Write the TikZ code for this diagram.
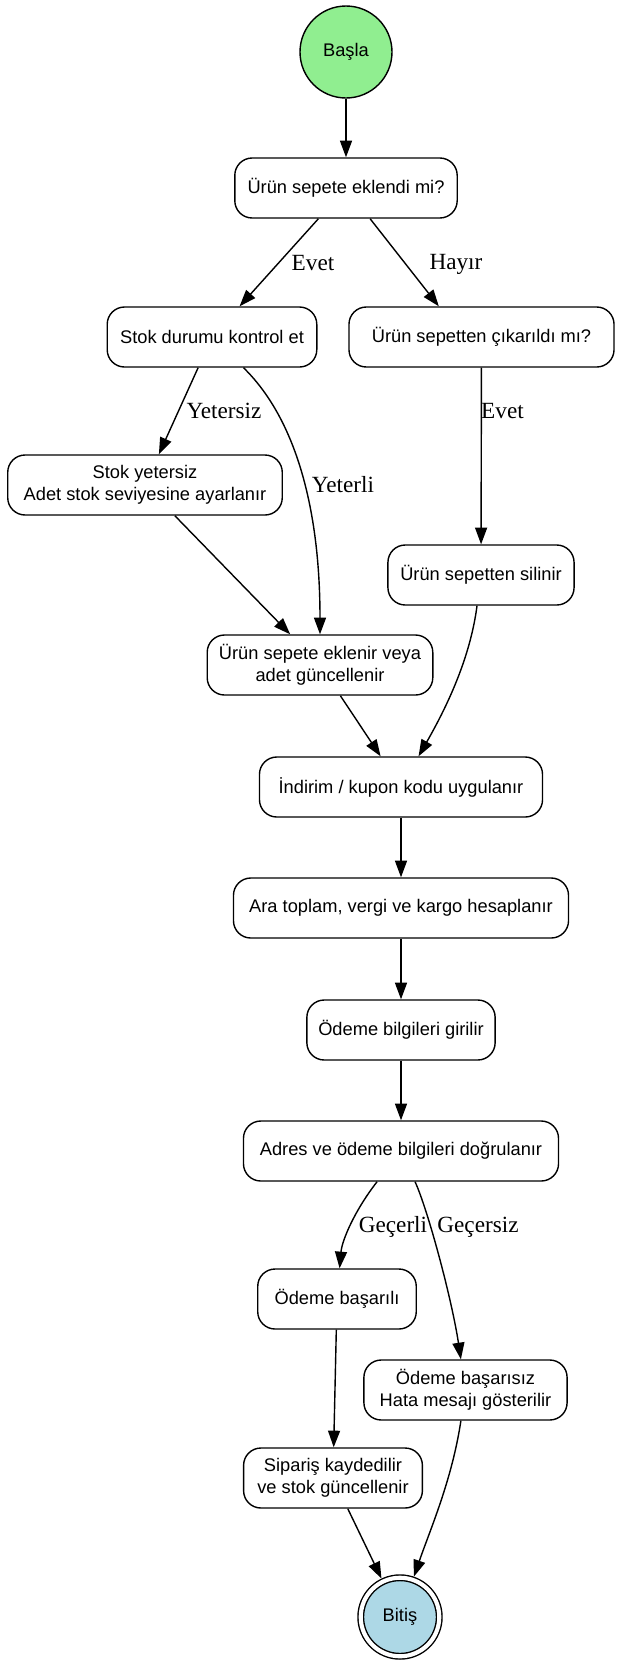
\documentclass[tikz,border=0pt]{standalone}
\usepackage{fontspec}
\setmainfont{Liberation Sans}
\newfontfamily\labelfont{Liberation Serif}
\usetikzlibrary{arrows.meta}

\definecolor{startgreen}{HTML}{90EE90}
\definecolor{endblue}{HTML}{ADD8E6}

\tikzset{
	nodefont/.style={font=\fontsize{13.7}{16.5}\selectfont},
	box/.style={draw, nodefont, rounded corners=13pt, fill=white, minimum height=45pt, inner xsep=2pt, align=center},
	state/.style={draw, nodefont, circle, inner sep=0pt},
	lbl/.style={font=\labelfont\fontsize{17.4}{20}\selectfont, inner sep=0pt},
}

\begin{document}
\begin{tikzpicture}[x=0.75pt, y=-0.75pt, line width=1.05pt, >={Triangle[length=12.5pt, width=9pt]}]
		\useasboundingbox (0,0) rectangle (620,1668);
		
		\node[state, fill=startgreen, minimum size=69pt] (top) at (346, 52) {Başla};
		
		\begin{scope}[every node/.style={box}]
		\node[minimum width=166.8pt] (1-1) at (346, 188)   {Ürün sepete eklendi mi?};
		
		\node[minimum width=157.2pt] (2-1) at (212, 337)   {Stok durumu kontrol et};
		\node[minimum width=198.8pt] (2-2) at (481.5, 337) {Ürün sepetten çıkarıldı mı?};
		
		\node[minimum width=205.9pt] (3-1) at (145, 485)   {Stok yetersiz\\Adet stok seviyesine ayarlanır};
		\node[minimum width=139.6pt] (3-2) at (481, 575)   {Ürün sepetten silinir};
		
		\node[minimum width=169.2pt] (4-1) at (320, 665)   {Ürün sepete eklenir veya\\adet güncellenir};
		
		\node[minimum width=212.3pt] (5-1) at (401, 787)   {İndirim / kupon kodu uygulanır};
		\node[minimum width=251.3pt] (6-1) at (401, 908)   {Ara toplam, vergi ve kargo hesaplanır};
		\node[minimum width=141.2pt] (7-1) at (401, 1030)  {Ödeme bilgileri girilir};
		\node[minimum width=236.3pt] (8-1) at (401, 1151)  {Adres ve ödeme bilgileri doğrulanır};
		
		\node[minimum width=118.9pt] (9-1) at (337, 1299)  {Ödeme başarılı};
		\node[minimum width=152.4pt] (9-2) at (465.5, 1390) {Ödeme başarısız\\Hata mesajı gösterilir};
		
		\node[minimum width=134.1pt] (10-1) at (333, 1478) {Sipariş kaydedilir\\ve stok güncellenir};
		\end{scope}
		
		\node[state, double, double distance=3.1pt, outer sep=2.6pt, fill=endblue, minimum size=58.9pt] (bottom) at (400, 1617) {Bitiş};
		
		
		\path [->] (top) edge (1-1);
		
		\path [->] (1-1) edge (2-1);
		\path [->] (1-1) edge ([xshift=-32pt]2-2.north);
		\node[lbl] (evet-1) at (313, 263) {Evet};
		\node[lbl] (hayir)  at (456, 264) {Hayır};
		
		\path [->] (2-1) edge (3-1);
		\draw [->] (2-1) .. controls (292, 415) and (320, 500) .. (4-1);
		\node[lbl] (yetersiz) at (224, 411) {Yetersiz};
		\node[lbl] (yeterli)  at (343, 485) {Yeterli};
		
		\path [->] (2-2) edge (3-2);
		\node[lbl] (evet-2) at (502.5, 411) {Evet};
		
		\path [->] (3-1) edge (4-1);
		\draw [->] (3-2) .. controls (470, 660) and (445, 710) .. (5-1);
		\path [->] (4-1) edge (5-1);
		
		\path [->] (5-1) edge (6-1);
		\path [->] (6-1) edge (7-1);
		\path [->] (7-1) edge (8-1);
		
		\draw [->] (8-1) .. controls (355, 1210) and (342, 1240) .. (9-1);
		\draw [->] (8-1) .. controls (428, 1210) and (452, 1300) .. (9-2);
		\node[lbl] (gecerli)  at (393, 1227) {Geçerli};
		\node[lbl] (gecersiz) at (478, 1227) {Geçersiz};
		
		\path [->] (9-1) edge (10-1);
		\path [->] (10-1) edge (bottom);
		\draw [->] (9-2) .. controls (452, 1480) and (430, 1530) .. (bottom);
		
		
\end{tikzpicture}
\end{document}
